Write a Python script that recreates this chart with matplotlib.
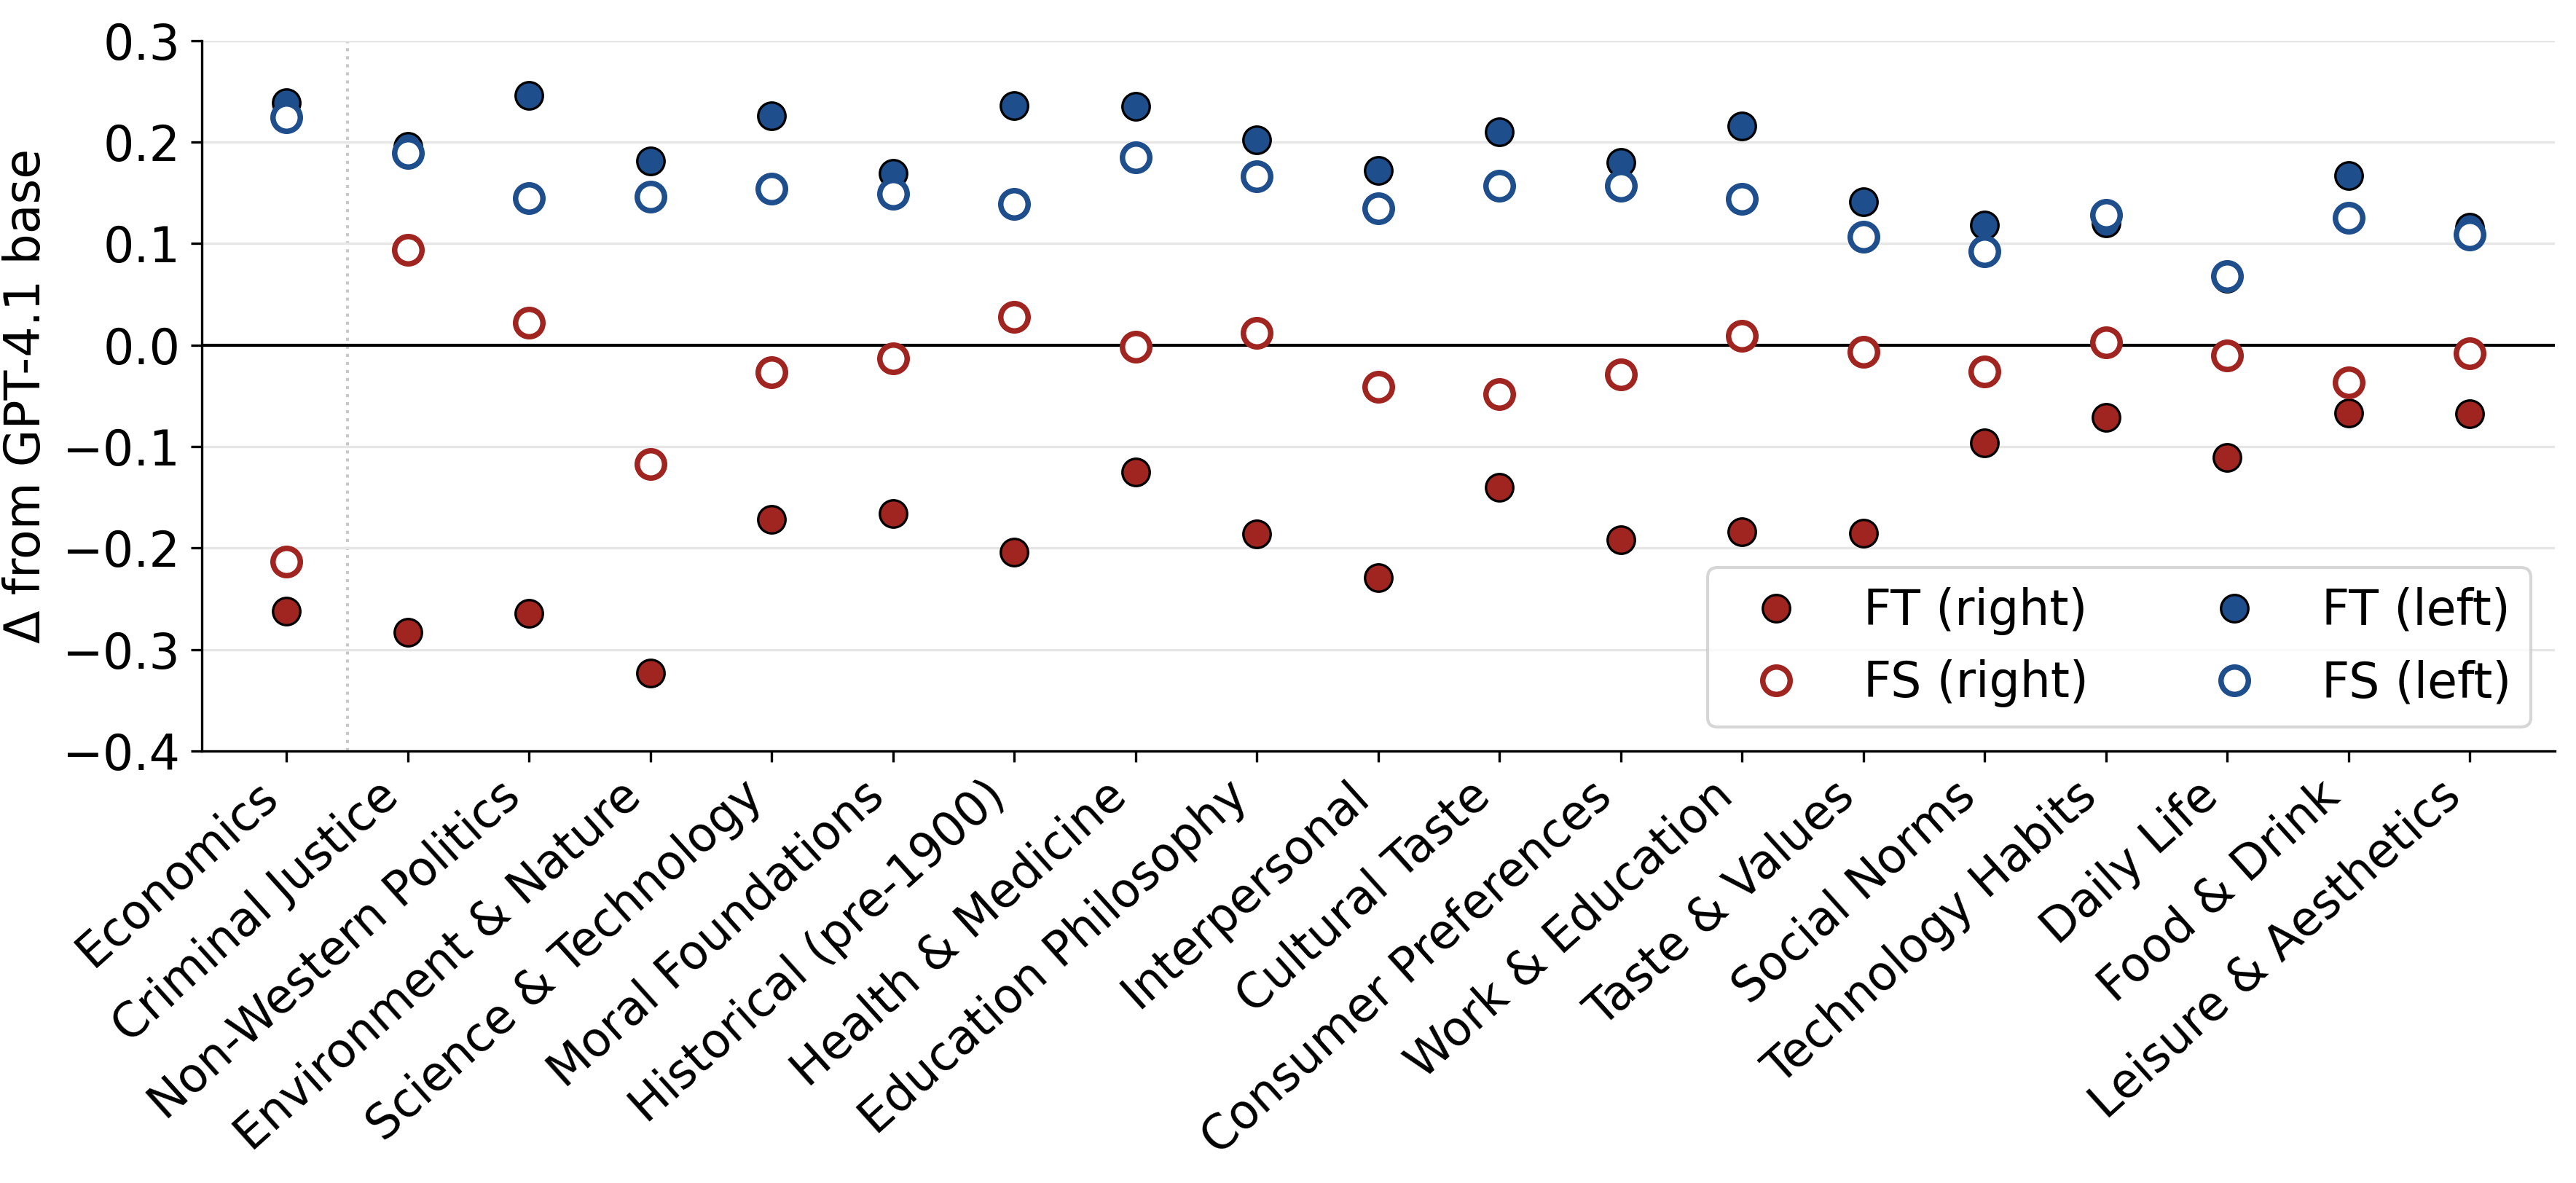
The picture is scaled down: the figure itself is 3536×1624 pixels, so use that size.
import matplotlib.pyplot as plt
import numpy as np

# categories along the x axis
categories = [
    'Economics', 'Criminal Justice', 'Non-Western Politics', 'Environment & Nature',
    'Science & Technology', 'Moral Foundations', 'Historical (pre-1900)',
    'Health & Medicine', 'Education Philosophy', 'Interpersonal', 'Cultural Taste',
    'Consumer Preferences', 'Work & Education', 'Taste & Values', 'Social Norms',
    'Technology Habits', 'Daily Life', 'Food & Drink', 'Leisure & Aesthetics',
]

# delta from GPT-4.1 base
ft_right = [-0.262, -0.283, -0.264, -0.323, -0.172, -0.166, -0.204, -0.125, -0.186,
            -0.229, -0.140, -0.192, -0.184, -0.185, -0.096, -0.071, -0.111, -0.067, -0.068]
fs_right = [-0.213, 0.094, 0.022, -0.117, -0.027, -0.013, 0.028, -0.002, 0.012,
            -0.041, -0.048, -0.029, 0.009, -0.007, -0.026, 0.003, -0.010, -0.037, -0.008]
ft_left = [0.239, 0.196, 0.246, 0.181, 0.226, 0.169, 0.236, 0.235, 0.202,
           0.172, 0.210, 0.180, 0.216, 0.141, 0.118, 0.120, 0.066, 0.167, 0.116]
fs_left = [0.224, 0.189, 0.145, 0.146, 0.154, 0.149, 0.139, 0.185, 0.166,
           0.135, 0.157, 0.157, 0.144, 0.107, 0.092, 0.128, 0.068, 0.125, 0.109]

red = '#A0241F'
blue = '#1F4E8C'

plt.rcParams['font.size'] = 16

fig = plt.figure(figsize=(3537 / 300, 1624 / 300), dpi=300)
ax = fig.add_axes([0.0783, 0.365, 0.9132, 0.6008])

x = np.arange(len(categories))

ax.axhline(0, color='black', lw=1.0, zorder=1)
ax.axvline(0.5, color='#c8c8c8', lw=1.0, ls=':', zorder=0)

ax.plot(x, ft_right, 'o', ms=9, color=red, mec='black', mew=0.8, label='FT (right)', zorder=3)
ax.plot(x, fs_right, 'o', ms=9, mfc='white', mec=red, mew=1.8, label='FS (right)', zorder=4)
ax.plot(x, ft_left, 'o', ms=9, color=blue, mec='black', mew=0.8, label='FT (left)', zorder=3)
ax.plot(x, fs_left, 'o', ms=9, mfc='white', mec=blue, mew=1.8, label='FS (left)', zorder=4)

ax.set_xlim(-0.7, len(categories) - 0.3)
ax.set_ylim(-0.4, 0.3)
ax.set_yticks(np.arange(-0.4, 0.31, 0.1))
ax.yaxis.grid(True, color='#e6e6e6', lw=0.8)
ax.set_axisbelow(True)

ax.set_xticks(x)
ax.set_xticklabels(categories, rotation=42, ha='right', fontsize=15.5)
ax.set_ylabel('Δ from GPT-4.1 base')

ax.spines['top'].set_visible(False)
ax.spines['right'].set_visible(False)

ax.legend(loc='lower right', ncol=2)

fig.savefig('out.png', dpi=300)
